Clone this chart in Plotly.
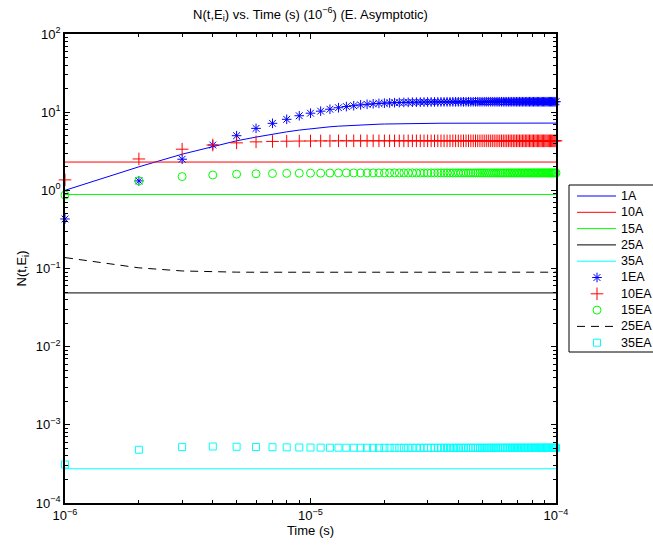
import plotly.graph_objects as go

# Time grid in microseconds (1 .. 100 us)
t_us = list(range(1, 101))
time_s = [k * 1e-6 for k in t_us]

# Analytic curves (solid lines)
n_1A = [
    1.0, 2.0, 2.9, 3.65, 4.3, 4.8, 5.25, 5.6, 5.9, 6.15,
    6.35, 6.5, 6.62, 6.72, 6.8, 6.87, 6.93, 6.98, 7.02, 7.05,
    7.08, 7.1, 7.12, 7.14, 7.15, 7.16, 7.17, 7.18, 7.19, 7.2,
    7.2, 7.21, 7.21, 7.22, 7.22, 7.22, 7.23, 7.23, 7.23, 7.23,
    7.24, 7.24, 7.24, 7.24, 7.24, 7.24, 7.24, 7.24, 7.24, 7.24,
    7.25, 7.25, 7.25, 7.25, 7.25, 7.25, 7.25, 7.25, 7.25, 7.25,
    7.25, 7.25, 7.25, 7.25, 7.25, 7.25, 7.25, 7.25, 7.25, 7.25,
    7.25, 7.25, 7.25, 7.25, 7.25, 7.25, 7.25, 7.25, 7.25, 7.25,
    7.25, 7.25, 7.25, 7.25, 7.25, 7.25, 7.25, 7.25, 7.25, 7.25,
    7.25, 7.25, 7.25, 7.25, 7.25, 7.25, 7.25, 7.25, 7.25, 7.25,
]
t_ends = [1e-6, 1e-4]
n_10A = [2.3, 2.3]
n_15A = [0.885, 0.885]
n_25A = [0.0487, 0.0487]
n_35A = [2.74e-4, 2.74e-4]

# Asymptotic estimates (markers / dashed)
n_1EA = [
    0.43, 1.32, 2.5, 3.8, 5.0, 6.2, 7.2, 8.1, 9.0, 9.7,
    10.3, 10.9, 11.4, 11.8, 12.1, 12.4, 12.6, 12.8, 12.95, 13.05,
    13.15, 13.22, 13.28, 13.33, 13.37, 13.4, 13.43, 13.45, 13.47, 13.49,
    13.5, 13.51, 13.52, 13.53, 13.54, 13.55, 13.55, 13.56, 13.56, 13.57,
    13.57, 13.57, 13.58, 13.58, 13.58, 13.58, 13.59, 13.59, 13.59, 13.59,
    13.6, 13.6, 13.6, 13.6, 13.6, 13.6, 13.6, 13.6, 13.6, 13.6,
    13.6, 13.6, 13.6, 13.6, 13.6, 13.6, 13.6, 13.6, 13.6, 13.6,
    13.6, 13.6, 13.6, 13.6, 13.6, 13.6, 13.6, 13.6, 13.6, 13.6,
    13.6, 13.6, 13.6, 13.6, 13.6, 13.6, 13.6, 13.6, 13.6, 13.6,
    13.6, 13.6, 13.6, 13.6, 13.6, 13.6, 13.6, 13.6, 13.6, 13.6,
]
n_10EA = [
    1.36, 2.52, 3.36, 3.8, 4.05, 4.17, 4.22, 4.25, 4.27, 4.28,
    4.29, 4.29, 4.3, 4.3, 4.3, 4.3, 4.3, 4.3, 4.3, 4.3,
    4.3, 4.3, 4.3, 4.3, 4.3, 4.3, 4.3, 4.3, 4.3, 4.3,
    4.3, 4.3, 4.3, 4.3, 4.3, 4.3, 4.3, 4.3, 4.3, 4.3,
    4.3, 4.3, 4.3, 4.3, 4.3, 4.3, 4.3, 4.3, 4.3, 4.3,
    4.3, 4.3, 4.3, 4.3, 4.3, 4.3, 4.3, 4.3, 4.3, 4.3,
    4.3, 4.3, 4.3, 4.3, 4.3, 4.3, 4.3, 4.3, 4.3, 4.3,
    4.3, 4.3, 4.3, 4.3, 4.3, 4.3, 4.3, 4.3, 4.3, 4.3,
    4.3, 4.3, 4.3, 4.3, 4.3, 4.3, 4.3, 4.3, 4.3, 4.3,
    4.3, 4.3, 4.3, 4.3, 4.3, 4.3, 4.3, 4.3, 4.3, 4.3,
]
n_15EA = [
    0.87, 1.32, 1.5, 1.57, 1.61, 1.63, 1.64, 1.65, 1.655, 1.66,
    1.66, 1.665, 1.67, 1.67, 1.67, 1.67, 1.67, 1.67, 1.67, 1.67,
    1.67, 1.67, 1.67, 1.67, 1.67, 1.67, 1.67, 1.67, 1.67, 1.67,
    1.67, 1.67, 1.67, 1.67, 1.67, 1.67, 1.67, 1.67, 1.67, 1.67,
    1.67, 1.67, 1.67, 1.67, 1.67, 1.67, 1.67, 1.67, 1.67, 1.67,
    1.67, 1.67, 1.67, 1.67, 1.67, 1.67, 1.67, 1.67, 1.67, 1.67,
    1.67, 1.67, 1.67, 1.67, 1.67, 1.67, 1.67, 1.67, 1.67, 1.67,
    1.67, 1.67, 1.67, 1.67, 1.67, 1.67, 1.67, 1.67, 1.67, 1.67,
    1.67, 1.67, 1.67, 1.67, 1.67, 1.67, 1.67, 1.67, 1.67, 1.67,
    1.67, 1.67, 1.67, 1.67, 1.67, 1.67, 1.67, 1.67, 1.67, 1.67,
]
n_25EA = [
    0.138, 0.102, 0.093, 0.0905, 0.0898, 0.0896, 0.0896, 0.0896, 0.0896, 0.0896,
    0.0897, 0.0897, 0.0897, 0.0897, 0.0897, 0.0897, 0.0897, 0.0897, 0.0897, 0.0897,
    0.0897, 0.0897, 0.0897, 0.0897, 0.0897, 0.0897, 0.0897, 0.0897, 0.0897, 0.0897,
    0.0897, 0.0897, 0.0897, 0.0897, 0.0897, 0.0897, 0.0897, 0.0897, 0.0897, 0.0897,
    0.0897, 0.0897, 0.0897, 0.0897, 0.0897, 0.0897, 0.0897, 0.0897, 0.0897, 0.0897,
    0.0897, 0.0897, 0.0897, 0.0897, 0.0897, 0.0897, 0.0897, 0.0897, 0.0897, 0.0897,
    0.0897, 0.0897, 0.0897, 0.0897, 0.0897, 0.0897, 0.0897, 0.0897, 0.0897, 0.0897,
    0.0897, 0.0897, 0.0897, 0.0897, 0.0897, 0.0897, 0.0897, 0.0897, 0.0897, 0.0897,
    0.0897, 0.0897, 0.0897, 0.0897, 0.0897, 0.0897, 0.0897, 0.0897, 0.0897, 0.0897,
    0.0897, 0.0897, 0.0897, 0.0897, 0.0897, 0.0897, 0.0897, 0.0897, 0.0897, 0.0897,
]
n_35EA = [
    3.11e-4, 4.8e-4, 5.19e-4, 5.28e-4, 5.24e-4, 5.2e-4, 5.17e-4, 5.15e-4, 5.13e-4, 5.12e-4,
    5.11e-4, 5.1e-4, 5.1e-4, 5.09e-4, 5.09e-4, 5.09e-4, 5.09e-4, 5.08e-4, 5.08e-4, 5.08e-4,
    5.08e-4, 5.08e-4, 5.08e-4, 5.08e-4, 5.08e-4, 5.08e-4, 5.08e-4, 5.08e-4, 5.08e-4, 5.08e-4,
    5.08e-4, 5.08e-4, 5.08e-4, 5.08e-4, 5.08e-4, 5.08e-4, 5.08e-4, 5.08e-4, 5.08e-4, 5.08e-4,
    5.08e-4, 5.08e-4, 5.08e-4, 5.08e-4, 5.08e-4, 5.08e-4, 5.08e-4, 5.08e-4, 5.08e-4, 5.08e-4,
    5.08e-4, 5.08e-4, 5.08e-4, 5.08e-4, 5.08e-4, 5.08e-4, 5.08e-4, 5.08e-4, 5.08e-4, 5.08e-4,
    5.08e-4, 5.08e-4, 5.08e-4, 5.08e-4, 5.08e-4, 5.08e-4, 5.08e-4, 5.08e-4, 5.08e-4, 5.08e-4,
    5.08e-4, 5.08e-4, 5.08e-4, 5.08e-4, 5.08e-4, 5.08e-4, 5.08e-4, 5.08e-4, 5.08e-4, 5.08e-4,
    5.08e-4, 5.08e-4, 5.08e-4, 5.08e-4, 5.08e-4, 5.08e-4, 5.08e-4, 5.08e-4, 5.08e-4, 5.08e-4,
    5.08e-4, 5.08e-4, 5.08e-4, 5.08e-4, 5.08e-4, 5.08e-4, 5.08e-4, 5.08e-4, 5.08e-4, 5.08e-4,
]

# Axis tick labels
x_tick_vals = [1e-6, 1e-5, 1e-4]
x_tick_text = ["10<sup>\u22126</sup>", "10<sup>\u22125</sup>", "10<sup>\u22124</sup>"]
y_tick_vals = [1e-4, 1e-3, 1e-2, 1e-1, 1e0, 1e1, 1e2]
y_tick_text = ["10<sup>\u22124</sup>", "10<sup>\u22123</sup>", "10<sup>\u22122</sup>",
               "10<sup>\u22121</sup>", "10<sup>0</sup>", "10<sup>1</sup>", "10<sup>2</sup>"]

BLUE, RED, GREEN, BLACK, CYAN = "#0000ff", "#ff0000", "#00ff00", "#000000", "#00ffff"
FONT = "Liberation Sans, Arial, Helvetica, sans-serif"
FS = 13
LEGEND_FS = 12.5
DASH = "8px,6px"

W, H = 653, 549
# Plot box in pixels: left, right, top, bottom
PL, PR, PT, PB = 65, 556, 34, 503

fig = go.Figure()

# (name, style kind, colour, symbol, size)
series_style = [
    ("1A", "line", BLUE, None, None),
    ("10A", "line", RED, None, None),
    ("15A", "line", GREEN, None, None),
    ("25A", "line", BLACK, None, None),
    ("35A", "line", CYAN, None, None),
    ("1EA", "marker", BLUE, "asterisk-open", 8),
    ("10EA", "marker", RED, "cross-thin-open", 9),
    ("15EA", "marker", GREEN, "circle-open", 8),
    ("25EA", "dash", BLACK, None, None),
    ("35EA", "marker", CYAN, "square-open", 7),
]
series_data = {
    "1A": (time_s, n_1A), "10A": (t_ends, n_10A), "15A": (t_ends, n_15A),
    "25A": (t_ends, n_25A), "35A": (t_ends, n_35A),
    "1EA": (time_s, n_1EA), "10EA": (time_s, n_10EA), "15EA": (time_s, n_15EA),
    "25EA": (time_s, n_25EA), "35EA": (time_s, n_35EA),
}

for name, kind, color, symbol, size in series_style:
    xs, ys = series_data[name]
    if kind == "marker":
        fig.add_trace(go.Scatter(
            x=xs, y=ys, name=name, mode="markers", cliponaxis=False,
            marker=dict(symbol=symbol, size=size, color=color,
                        line=dict(color=color, width=1)),
            xaxis="x", yaxis="y", showlegend=False))
    else:
        fig.add_trace(go.Scatter(
            x=xs, y=ys, name=name, mode="lines",
            line=dict(color=color, width=1, dash=DASH if kind == "dash" else "solid"),
            xaxis="x", yaxis="y", showlegend=False))

# ---- Legend box, drawn on its own pixel-scaled overlay axes ----
LX0, LX1, LY0, LY1 = 560, W, 180, 362
row_y0, row_step = 196.0, 16.3
sample_x0, sample_x1, marker_x, text_x = 577, 616, 597, 620

for i, (name, kind, color, symbol, size) in enumerate(series_style):
    ry = row_y0 + i * row_step
    if kind == "marker":
        fig.add_trace(go.Scatter(
            x=[marker_x], y=[ry], mode="markers", hoverinfo="skip",
            marker=dict(symbol=symbol, size=size, color=color,
                        line=dict(color=color, width=1)),
            xaxis="x2", yaxis="y2", showlegend=False))
    else:
        fig.add_trace(go.Scatter(
            x=[sample_x0, sample_x1], y=[ry, ry], mode="lines", hoverinfo="skip",
            line=dict(color=color, width=1, dash=DASH if kind == "dash" else "solid"),
            xaxis="x2", yaxis="y2", showlegend=False))
    fig.add_annotation(x=text_x, y=ry, xref="x2", yref="y2", text=name,
                       showarrow=False, xanchor="left", yanchor="middle", borderpad=0,
                       font=dict(family=FONT, size=LEGEND_FS, color="black"))

fig.add_shape(type="rect", xref="x2", yref="y2", x0=569, x1=W + 10, y0=185, y1=352,
              line=dict(color="black", width=1), fillcolor="rgba(0,0,0,0)", layer="below")

minor_vals_y = [m * 10.0 ** e for e in range(-4, 2) for m in range(2, 10)]
minor_vals_x = [m * 10.0 ** e for e in range(-6, -4) for m in range(2, 10)]

axis_common = dict(
    type="log", showgrid=False, zeroline=False,
    showline=True, linecolor="black", linewidth=1.5, mirror="allticks",
    ticks="inside", ticklen=5, tickwidth=1, tickcolor="black",
    tickmode="array",
    tickfont=dict(family=FONT, size=FS, color="black"),
)

fig.update_layout(
    width=W, height=H,
    margin=dict(l=0, r=0, t=0, b=0, autoexpand=False),
    paper_bgcolor="white", plot_bgcolor="rgba(0,0,0,0)",
    font=dict(family=FONT, size=FS, color="black"),
    title=dict(text="N(t,E<sub>i</sub>) vs. Time (s) (10<sup>\u22126</sup>) (E. Asymptotic)",
               x=(PL + PR) / 2 / W, xanchor="center", y=1 - 14 / H, yanchor="middle",
               font=dict(family=FONT, size=FS, color="black")),
    xaxis=dict(axis_common, domain=[PL / W, PR / W], anchor="y", range=[-6, -4],
               tickvals=x_tick_vals, ticktext=x_tick_text,
               minor=dict(ticks="inside", ticklen=3, tickwidth=1, tickcolor="black",
                          tickvals=minor_vals_x, showgrid=False),
               title=dict(text="Time (s)", standoff=3,
                          font=dict(family=FONT, size=FS))),
    yaxis=dict(axis_common, domain=[1 - PB / H, 1 - PT / H], anchor="x", range=[-4, 2],
               tickvals=y_tick_vals, ticktext=y_tick_text,
               minor=dict(ticks="inside", ticklen=3, tickwidth=1, tickcolor="black",
                          tickvals=minor_vals_y, showgrid=False),
               title=dict(text="N(t,E<sub>i</sub>)", standoff=6,
                          font=dict(family=FONT, size=FS))),
    xaxis2=dict(domain=[LX0 / W, LX1 / W], range=[LX0, LX1], anchor="y2",
                visible=False, fixedrange=True),
    yaxis2=dict(domain=[1 - LY1 / H, 1 - LY0 / H], range=[LY1, LY0], anchor="x2",
                visible=False, fixedrange=True),
    showlegend=False,
)

fig.write_html("out.html")
